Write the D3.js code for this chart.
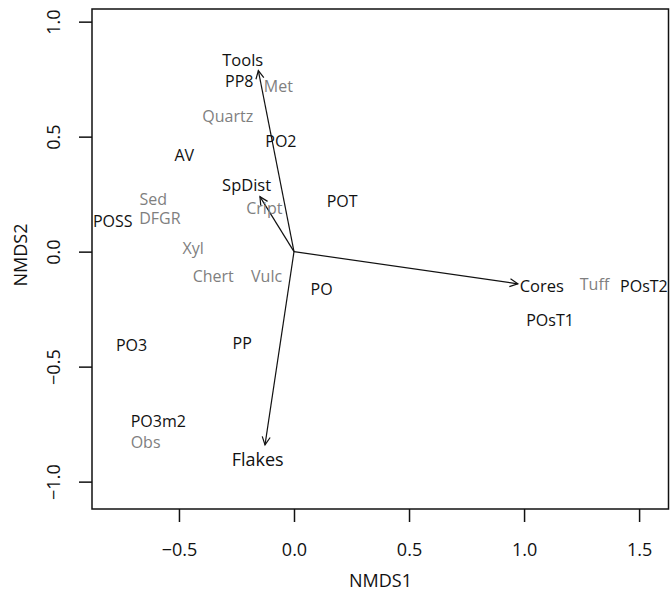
<!DOCTYPE html>
<html>
<head>
<meta charset="utf-8">
<script src="https://cdn.jsdelivr.net/npm/d3@7"></script>
<style>
  body { margin: 0; background: #fff; }
  text { font-family: "Open Sans", "Noto Sans", sans-serif; }
</style>
</head>
<body>
<div id="chart"></div>
<script>
// Dimensions of the plot.
var width = 670;
var height = 592;
var margin = { top: 9, right: 1, bottom: 83, left: 92 };

// Site scores (black labels).
var siteNames = ["PP8", "PO2", "AV", "POSS", "POT", "PO", "POsT2", "POsT1", "PO3", "PP", "PO3m2"];
var siteX = [-0.238, -0.057, -0.477, -0.788, 0.209, 0.120, 1.521, 1.113, -0.706, -0.225, -0.590];
var siteY = [0.739, 0.478, 0.420, 0.130, 0.220, -0.163, -0.149, -0.297, -0.406, -0.398, -0.739];

// Raw material scores (grey labels).
var speciesNames = ["Met", "Quartz", "Sed", "DFGR", "Cript", "Xyl", "Chert", "Vulc", "Tuff", "Obs"];
var speciesX = [-0.068, -0.288, -0.612, -0.583, -0.129, -0.438, -0.351, -0.119, 1.306, -0.645];
var speciesY = [0.717, 0.590, 0.229, 0.144, 0.189, 0.015, -0.106, -0.109, -0.143, -0.830];

// Fitted vectors: arrow tips and label positions.
var vectorNames = ["Tools", "SpDist", "Cores", "Flakes"];
var vectorX = [-0.155, -0.148, 0.973, -0.126];
var vectorY = [0.787, 0.239, -0.140, -0.840];
var vectorLabelX = [-0.223, -0.206, 1.077, -0.158];
var vectorLabelY = [0.834, 0.290, -0.152, -0.903];

var xTicks = [-0.5, 0.0, 0.5, 1.0, 1.5];
var yTicks = [-1.0, -0.5, 0.0, 0.5, 1.0];

var x = d3.scaleLinear()
    .domain([-0.878, 1.630])
    .range([margin.left, width - margin.right]);

var y = d3.scaleLinear()
    .domain([-1.119, 1.055])
    .range([height - margin.bottom, margin.top]);

var svg = d3.select("#chart").append("svg")
    .attr("width", width)
    .attr("height", height);

svg.append("defs").append("marker")
    .attr("id", "arrow")
    .attr("markerUnits", "userSpaceOnUse")
    .attr("viewBox", "-10 -6 12 12")
    .attr("markerWidth", 12)
    .attr("markerHeight", 12)
    .attr("refX", 0)
    .attr("refY", 0)
    .attr("orient", "auto")
  .append("path")
    .attr("d", "M-8,-4L0,0L-8,4")
    .attr("fill", "none")
    .attr("stroke", "#111")
    .attr("stroke-width", 1.2);

// Axes
var fmt = d3.format(".1f");
var xAxis = svg.append("g")
    .attr("transform", "translate(0," + (height - margin.bottom) + ")")
    .call(d3.axisBottom(x).tickValues(xTicks).tickFormat(fmt).tickSize(13).tickSizeOuter(0));

var yAxis = svg.append("g")
    .attr("transform", "translate(" + margin.left + ",0)")
    .call(d3.axisLeft(y).tickValues(yTicks).tickFormat(fmt).tickSize(13).tickSizeOuter(0));

[xAxis, yAxis].forEach(function(g) {
  g.select(".domain").remove();
  g.selectAll(".tick line").attr("stroke", "#111").attr("stroke-width", 1.5);
  g.selectAll(".tick text")
      .attr("fill", "#111")
      .style("font-size", "18px")
      .style("font-family", "'Open Sans', sans-serif");
});

xAxis.selectAll(".tick text")
    .attr("y", 41)
    .attr("dy", "0.35em");

yAxis.selectAll(".tick text")
    .attr("x", null)
    .attr("text-anchor", "middle")
    .attr("transform", "translate(-38,0) rotate(-90)")
    .attr("y", 0)
    .attr("dy", "0.35em");

// Box
svg.append("rect")
    .attr("x", margin.left)
    .attr("y", margin.top)
    .attr("width", width - margin.left - margin.right - 0.5)
    .attr("height", height - margin.top - margin.bottom)
    .attr("fill", "none")
    .attr("stroke", "#111")
    .attr("stroke-width", 1.5);

// Axis titles
svg.append("text")
    .attr("x", (margin.left + width - margin.right) / 2)
    .attr("y", 581)
    .attr("dy", "0.35em")
    .attr("text-anchor", "middle")
    .style("font-size", "18px")
    .attr("fill", "#111")
    .text("NMDS1");

svg.append("text")
    .attr("transform", "translate(21,255) rotate(-90)")
    .attr("dy", "0.35em")
    .attr("text-anchor", "middle")
    .style("font-size", "18px")
    .attr("fill", "#111")
    .text("NMDS2");

// Vectors
svg.selectAll(".vec")
    .data(vectorNames)
    .enter().append("line")
    .attr("class", "vec")
    .attr("x1", x(0))
    .attr("y1", y(0))
    .attr("x2", function(d, i) { return x(vectorX[i]); })
    .attr("y2", function(d, i) { return y(vectorY[i]); })
    .attr("stroke", "#111")
    .attr("stroke-width", 1.2)
    .attr("marker-end", "url(#arrow)");

svg.selectAll(".veclab")
    .data(vectorNames)
    .enter().append("text")
    .attr("class", "veclab")
    .attr("x", function(d, i) { return x(vectorLabelX[i]); })
    .attr("y", function(d, i) { return y(vectorLabelY[i]); })
    .attr("dy", "0.35em")
    .attr("text-anchor", "middle")
    .style("font-size", function(d) { return d === "Flakes" ? "18px" : "16.5px"; })
    .attr("fill", "#111")
    .text(function(d) { return d; });

// Species labels
svg.selectAll(".sp")
    .data(speciesNames)
    .enter().append("text")
    .attr("class", "sp")
    .attr("x", function(d, i) { return x(speciesX[i]); })
    .attr("y", function(d, i) { return y(speciesY[i]); })
    .attr("dy", "0.35em")
    .attr("text-anchor", "middle")
    .style("font-size", "16px")
    .attr("fill", "#7f7f7f")
    .text(function(d) { return d; });

// Site labels
svg.selectAll(".site")
    .data(siteNames)
    .enter().append("text")
    .attr("class", "site")
    .attr("x", function(d, i) { return x(siteX[i]); })
    .attr("y", function(d, i) { return y(siteY[i]); })
    .attr("dy", "0.35em")
    .attr("text-anchor", "middle")
    .style("font-size", "16px")
    .attr("fill", "#111")
    .text(function(d) { return d; });
</script>
</body>
</html>
